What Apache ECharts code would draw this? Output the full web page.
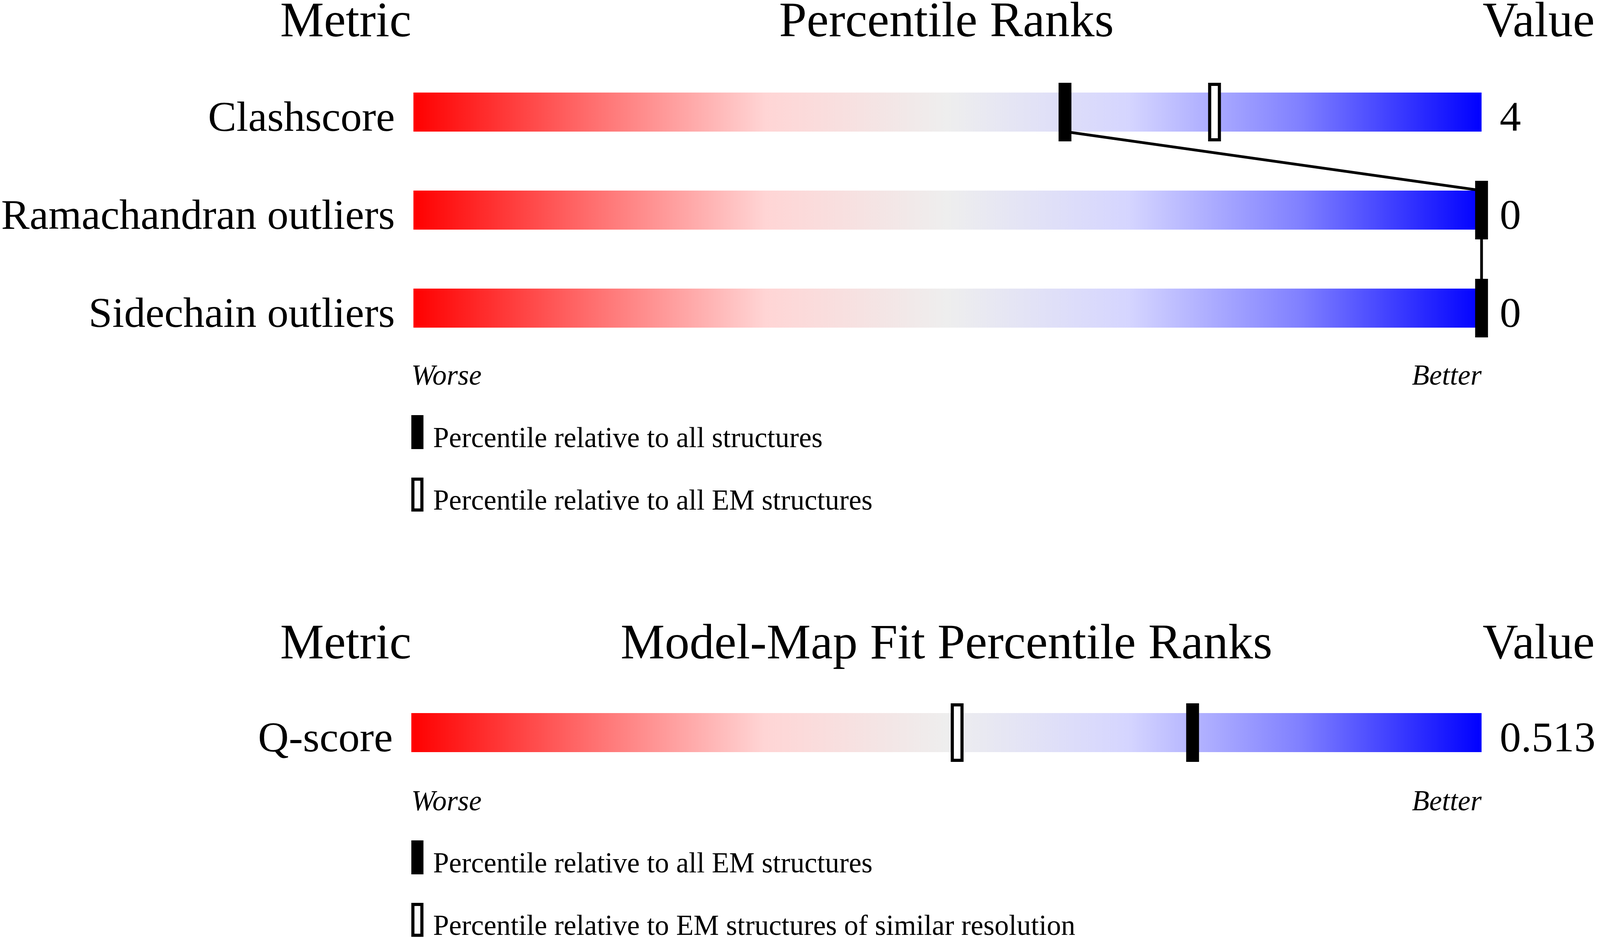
<!DOCTYPE html>
<html>
<head>
<meta charset="utf-8">
<script src="https://cdn.jsdelivr.net/npm/echarts@6/dist/echarts.min.js"></script>
<style>
  html, body { margin: 0; padding: 0; background: #fff; overflow: hidden; }
  #chart { width: 100vw; height: 100vh; }
</style>
</head>
<body>
<div id="chart"></div>
<script>
// data
const metricsGeo = ['Clashscore', 'Ramachandran outliers', 'Sidechain outliers'];
const valuesGeo = ['4', '0', '0'];
const pctAllGeo = [61, 100, 100];      // filled marker
const pctEmGeo = [75, null, null];     // open marker
const metricsFit = ['Q-score'];
const valuesFit = ['0.513'];
const pctAllEmFit = [73];              // filled marker
const pctSimResFit = [51];             // open marker
const titlesGeo = ['Metric', 'Percentile Ranks', 'Value'];
const titlesFit = ['Metric', 'Model-Map Fit Percentile Ranks', 'Value'];
const legendGeo = ['Percentile relative to all structures', 'Percentile relative to all EM structures'];
const legendFit = ['Percentile relative to all EM structures', 'Percentile relative to EM structures of similar resolution'];
const endLabels = ['Worse', 'Better'];

const myChart = echarts.init(document.getElementById('chart'));
const FONT = '"Liberation Serif", "Times New Roman", serif';
// layout was measured on a 4485 px wide picture; scale horizontally to the real width
const W = myChart.getWidth();
const sx = W / 4485;
const X = v => v * sx;
const fs = v => Math.round(v * sx);
const BAR_H = 100;
const L = X(1153), R = X(4153);

const grad = () => new echarts.graphic.LinearGradient(0, 0, 1, 0, [
  { offset: 0, color: '#ff0000' },
  { offset: 0.17, color: '#ff7070' },
  { offset: 0.33, color: '#ffd5d5' },
  { offset: 0.5, color: '#eeeeee' },
  { offset: 0.67, color: '#d5d5ff' },
  { offset: 0.83, color: '#8080ff' },
  { offset: 1, color: '#0000ff' }
]);

function markerSeries(name, grid, pcts, filled) {
  const data = [];
  pcts.forEach((p, i) => { if (p !== null) data.push([p, i]); });
  const w = X(36);
  return {
    name: name, type: 'custom', xAxisIndex: grid, yAxisIndex: grid * 2,
    z: 5, silent: true, animation: false,
    encode: { x: 0, y: 1 },
    data: data,
    renderItem: (params, api) => {
      const c = api.coord([api.value(0), api.value(1)]);
      if (filled) {
        return { type: 'rect', shape: { x: c[0] - w / 2, y: c[1] - 75, width: w, height: 150 },
          style: { fill: '#000' } };
      }
      return { type: 'rect', shape: { x: c[0] - w / 2 + 4, y: c[1] - 71, width: w - 8, height: 142 },
        style: { fill: '#fff', stroke: '#000', lineWidth: 8 } };
    }
  };
}

function connectorSeries(grid, pcts) {
  const data = [];
  for (let i = 0; i < pcts.length - 1; i++) data.push([pcts[i], i, pcts[i + 1], i + 1]);
  return {
    type: 'custom', xAxisIndex: grid, yAxisIndex: grid * 2, z: 4, silent: true, animation: false,
    encode: { x: [0, 2], y: [1, 3] },
    data: data,
    renderItem: (params, api) => {
      const a = api.coord([api.value(0), api.value(1)]);
      const b = api.coord([api.value(2), api.value(3)]);
      return { type: 'line', shape: { x1: a[0], y1: a[1] + BAR_H / 2, x2: b[0], y2: b[1] - BAR_H / 2 },
        style: { stroke: '#000', lineWidth: 7 } };
    }
  };
}

function catAxes(grid, names, vals) {
  const common = {
    type: 'category', gridIndex: grid, inverse: true,
    axisLine: { show: false }, axisTick: { show: false }, splitLine: { show: false }
  };
  const label = m => ({
    margin: X(m),
    formatter: v => '{a|' + v + '}',
    rich: { a: { fontFamily: FONT, fontSize: fs(119), color: '#000', padding: [38, 0, 0, 0] } }
  });
  return [
    Object.assign({}, common, { position: 'left', data: names, axisLabel: label(52) }),
    Object.assign({}, common, { position: 'right', data: vals, axisLabel: label(51) })
  ];
}

function txt(text, x, y, size, align, italic) {
  return { type: 'text', x: x, y: y, silent: true,
    style: { text: text, fontFamily: FONT, fontSize: size, fontStyle: italic ? 'italic' : 'normal',
      fill: '#000', textAlign: align, textVerticalAlign: 'middle' } };
}

function sectionText(titles, titleY, endY, legend, legTop) {
  const g = [
    txt(titles[0], L, titleY, fs(138), 'right'),
    txt(titles[1], (L + R) / 2, titleY, fs(139), 'center'),
    txt(titles[2], R + X(3), titleY, fs(138), 'left'),
    txt(endLabels[0], L, endY, fs(80), 'left', true),
    txt(endLabels[1], R, endY, fs(80), 'right', true)
  ];
  const lw = X(34);
  legend.forEach((t, i) => {
    const top = legTop + i * 160;
    g.push(i === 0
      ? { type: 'rect', shape: { x: L, y: top, width: lw, height: 87 }, style: { fill: '#000' } }
      : { type: 'rect', shape: { x: L + 4, y: top + 4, width: lw - 8, height: 79 },
          style: { fill: '#fff', stroke: '#000', lineWidth: 8 } });
    g.push(txt(t, L + X(61), top + 63, fs(80), 'left'));
  });
  return g;
}

const option = {
  backgroundColor: '#fff',
  animation: false,
  grid: [
    { left: L, right: W - R, top: 161.5, height: 753 },
    { left: L, right: W - R, top: 1751, height: 250 }
  ],
  xAxis: [0, 1].map(g => ({ type: 'value', gridIndex: g, min: 0, max: 100, show: false })),
  yAxis: catAxes(0, metricsGeo, valuesGeo).concat(catAxes(1, metricsFit, valuesFit)),
  series: [
    { type: 'bar', xAxisIndex: 0, yAxisIndex: 0, barWidth: BAR_H, silent: true,
      data: metricsGeo.map(() => 100), itemStyle: { color: grad() } },
    { type: 'bar', xAxisIndex: 1, yAxisIndex: 2, barWidth: BAR_H, silent: true,
      data: metricsFit.map(() => 100), itemStyle: { color: grad() } },
    connectorSeries(0, pctAllGeo),
    markerSeries(legendGeo[1], 0, pctEmGeo, false),
    markerSeries(legendGeo[0], 0, pctAllGeo, true),
    markerSeries(legendFit[1], 1, pctSimResFit, false),
    markerSeries(legendFit[0], 1, pctAllEmFit, true)
  ],
  graphic: sectionText(titlesGeo, 60, 966, legendGeo, 1063)
    .concat(sectionText(titlesFit, 1653, 2056, legendFit, 2152))
};
myChart.setOption(option);
</script>
</body>
</html>
